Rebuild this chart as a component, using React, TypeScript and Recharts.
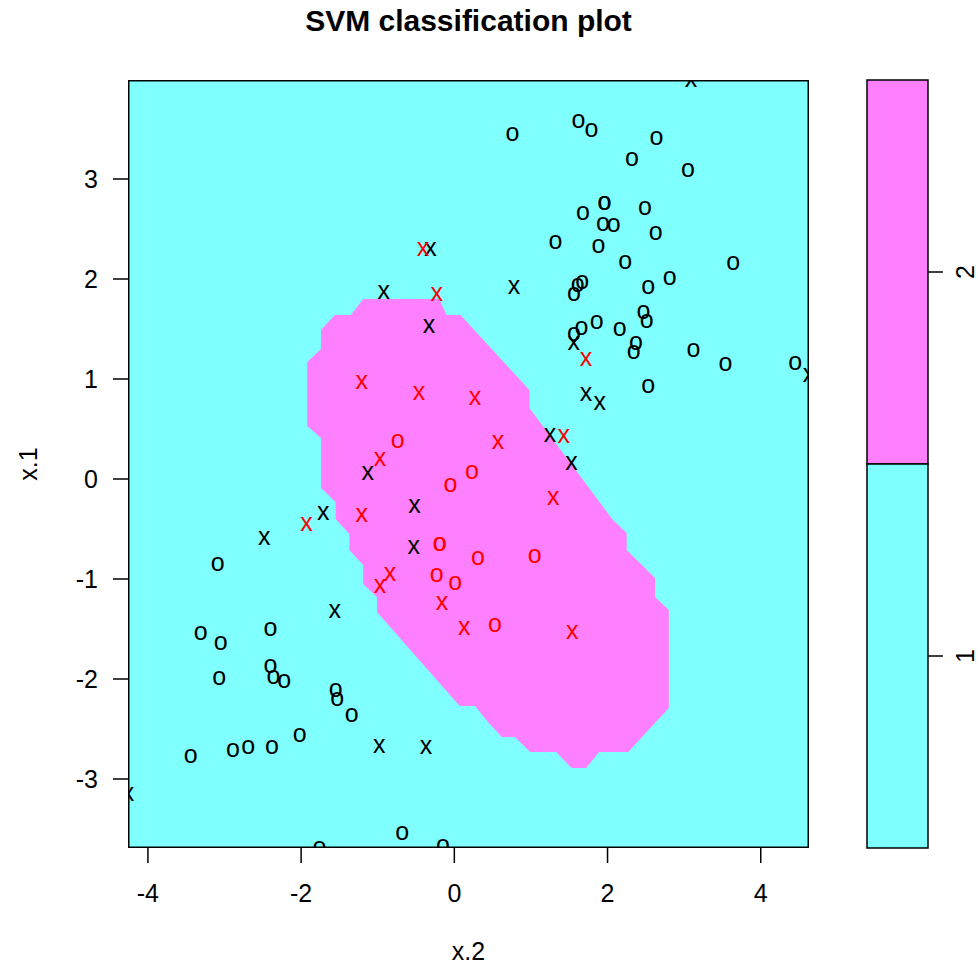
import { ScatterChart, Scatter, XAxis, YAxis, CartesianGrid, BarChart, Bar, Cell } from 'recharts';

// training points, [x.2, x.1]
const blackO: [number, number][] = [
  [1.62, 3.58], [1.79, 3.49], [0.76, 3.45], [2.64, 3.41], [2.32, 3.2], [3.05, 3.09],
  [1.96, 2.76], [1.96, 2.76], [1.68, 2.66], [2.49, 2.71], [1.94, 2.55], [2.08, 2.54],
  [2.63, 2.46], [1.32, 2.37], [1.88, 2.33], [2.23, 2.17], [3.64, 2.16], [1.67, 1.97],
  [1.61, 1.94], [1.56, 1.85], [2.53, 1.92], [2.81, 2.01], [2.47, 1.67], [2.51, 1.58],
  [1.86, 1.57], [2.16, 1.5], [1.66, 1.51], [1.56, 1.45], [2.37, 1.36], [2.34, 1.27],
  [3.12, 1.29], [3.54, 1.15], [4.45, 1.16], [2.53, 0.93],
  [-3.09, -0.85], [-3.31, -1.54], [-3.05, -1.64], [-2.4, -1.5], [-3.07, -1.99],
  [-2.4, -1.87], [-2.36, -1.98], [-2.22, -2.02], [-1.55, -2.11], [-1.53, -2.2],
  [-1.34, -2.36], [-2.02, -2.56], [-3.44, -2.77], [-2.89, -2.71], [-2.69, -2.68],
  [-2.38, -2.68], [-0.68, -3.54], [-1.76, -3.69], [-0.15, -3.67],
];

const blackX: [number, number][] = [
  [3.09, 3.99], [0.78, 1.92], [1.56, 1.36], [1.72, 0.85], [1.9, 0.76], [4.63, 1.04],
  [1.25, 0.44], [1.53, 0.16], [-0.92, 1.87], [-0.31, 2.3], [-0.33, 1.53], [-1.13, 0.06],
  [-1.71, -0.34], [-2.48, -0.59], [-0.52, -0.27], [-0.53, -0.68], [-1.56, -1.32],
  [-0.98, -2.67], [-0.37, -2.68], [-4.26, -3.15],
];

const redX: [number, number][] = [
  [-0.41, 2.3], [-0.23, 1.85], [1.72, 1.2], [-1.21, 0.97], [-0.46, 0.86], [0.27, 0.81],
  [1.43, 0.43], [0.57, 0.37], [-0.97, 0.2], [1.29, -0.19], [-1.21, -0.36], [-1.93, -0.45],
  [-0.84, -0.95], [-0.97, -1.07], [-0.16, -1.24], [0.13, -1.49], [1.54, -1.53],
];

const redO: [number, number][] = [
  [-0.74, 0.38], [0.23, 0.07], [-0.05, -0.06], [-0.19, -0.65], [-0.19, -0.65],
  [0.31, -0.79], [1.05, -0.77], [-0.23, -0.96], [0.01, -1.04], [0.53, -1.46],
];

// outline of the class-2 decision region, [x.2, x.1]
const region: [number, number][] = [
  [-1.19, 1.8], [-1.35, 1.64], [-1.56, 1.64], [-1.74, 1.49], [-1.74, 1.3], [-1.92, 1.17],
  [-1.92, 0.53], [-1.74, 0.41], [-1.74, -0.09], [-1.55, -0.23], [-1.55, -0.4], [-1.37, -0.55],
  [-1.37, -0.71], [-1.19, -0.86], [-1.19, -1.05], [-1.01, -1.18], [-1.01, -1.33], [0.07, -2.27],
  [0.27, -2.27], [0.45, -2.44], [0.62, -2.58], [0.79, -2.58], [0.99, -2.73], [1.33, -2.73],
  [1.53, -2.89], [1.72, -2.89], [1.89, -2.73], [2.27, -2.73], [2.8, -2.29], [2.8, -1.31],
  [2.62, -1.18], [2.62, -0.99], [2.25, -0.71], [2.25, -0.54], [2.07, -0.41], [0.98, 0.71],
  [0.98, 0.89], [0.08, 1.64], [-0.1, 1.64], [-0.2, 1.8],
];

const xDomain = [-4.26, 4.63];
const yDomain = [-3.69, 3.99];
const xTicks = [-4, -2, 0, 2, 4];
const yTicks = [-3, -2, -1, 0, 1, 2, 3];
const keyClasses = ['2', '1'];

const CYAN = '#80FFFF';
const PINK = '#FF80FF';
const keyColors = [PINK, CYAN];

const toPts = (arr: [number, number][]) => arr.map(([x2, x1]) => ({ x2, x1 }));
const keyData = keyClasses.map((cls) => ({ cls, v: 1 }));
// plot frame follows the axis domains
const frame = toPts([
  [xDomain[0], yDomain[0]], [xDomain[0], yDomain[1]],
  [xDomain[1], yDomain[1]], [xDomain[1], yDomain[0]],
]);

const glyph = (ch: string, color: string) => (props: any) => {
  const { cx, cy } = props;
  if (cx == null || cy == null) return <g />;
  return (
    <text x={cx} y={cy} dy="0.26em" textAnchor="middle" fontSize={25} fill={color}>
      {ch}
    </text>
  );
};

const pathOf = (p: any) =>
  (p.points || []).map((pt: any, i: number) => `${i ? 'L' : 'M'}${pt.x},${pt.y}`).join(' ') + ' Z';

const regionShape = (p: any) => <path d={pathOf(p)} fill={PINK} stroke="none" />;
const frameShape = (p: any) => <path d={pathOf(p)} fill="none" stroke="#000" strokeWidth={3} />;

const KeyTick = (props: any) => {
  const { x, y, payload } = props;
  return (
    <text x={x} y={y} dy="0.36em" textAnchor="middle" fontSize={25} fill="#000"
      transform={`rotate(-90 ${x} ${y})`}>
      {payload.value}
    </text>
  );
};

const tickFont = { fontSize: 25, fill: '#000' };
const line = { stroke: '#000', strokeWidth: 1.5 };
const noShape = () => <g />;

export default function App() {
  return (
    <div style={{ position: 'absolute', left: 0, top: 0, width: 980, height: 965, background: '#fff', fontFamily: "'Liberation Sans', Arial, sans-serif" }}>
      <div style={{ position: 'absolute', left: 0, top: 0 }}>
        <ScatterChart width={840} height={965} margin={{ top: 80, right: 31, bottom: 0, left: 0 }}>
          <CartesianGrid fill={CYAN} horizontal={false} vertical={false} />
          <XAxis type="number" dataKey="x2" domain={xDomain} ticks={xTicks} interval={0}
            allowDataOverflow height={117} tickSize={15} tickMargin={21}
            tick={tickFont} tickLine={line} axisLine={false} />
          <YAxis type="number" dataKey="x1" domain={yDomain} ticks={yTicks} interval={0}
            allowDataOverflow width={128} tickSize={15} tickMargin={15}
            tick={tickFont} tickLine={line} axisLine={false} />
          <Scatter data={toPts(region)} line={regionShape} shape={noShape} isAnimationActive={false} />
          <Scatter data={toPts(blackO)} shape={glyph('o', '#000')} isAnimationActive={false} />
          <Scatter data={toPts(blackX)} shape={glyph('x', '#000')} isAnimationActive={false} />
          <Scatter data={toPts(redO)} shape={glyph('o', '#FF0000')} isAnimationActive={false} />
          <Scatter data={toPts(redX)} shape={glyph('x', '#FF0000')} isAnimationActive={false} />
          <Scatter data={frame} line={frameShape} shape={noShape} isAnimationActive={false} />
        </ScatterChart>
      </div>
      <div style={{ position: 'absolute', left: 840, top: 0 }}>
        <BarChart width={140} height={965} data={keyData} layout="vertical" barCategoryGap={0}
          margin={{ top: 80, right: 0, bottom: 117, left: 27 }}>
          <XAxis type="number" domain={[0, 1]} hide />
          <YAxis type="category" dataKey="cls" orientation="right" width={52} axisLine={false}
            tickSize={15} tickMargin={22} tickLine={line} tick={<KeyTick />} interval={0} />
          <Bar dataKey="v" stroke="#000" strokeWidth={1.5} isAnimationActive={false}>
            {keyData.map((d, i) => (
              <Cell key={d.cls} fill={keyColors[i]} />
            ))}
          </Bar>
        </BarChart>
      </div>
      <svg width={980} height={965} style={{ position: 'absolute', left: 0, top: 0, pointerEvents: 'none' }}>
        <text x={468.5} y={31} textAnchor="middle" fontSize={30} fontWeight="bold" fill="#000">
          SVM classification plot
        </text>
        <text x={468.5} y={960} textAnchor="middle" fontSize={25} fill="#000">x.2</text>
        <text x={37} y={464} textAnchor="middle" fontSize={25} fill="#000" transform="rotate(-90 37 464)">x.1</text>
      </svg>
    </div>
  );
}
